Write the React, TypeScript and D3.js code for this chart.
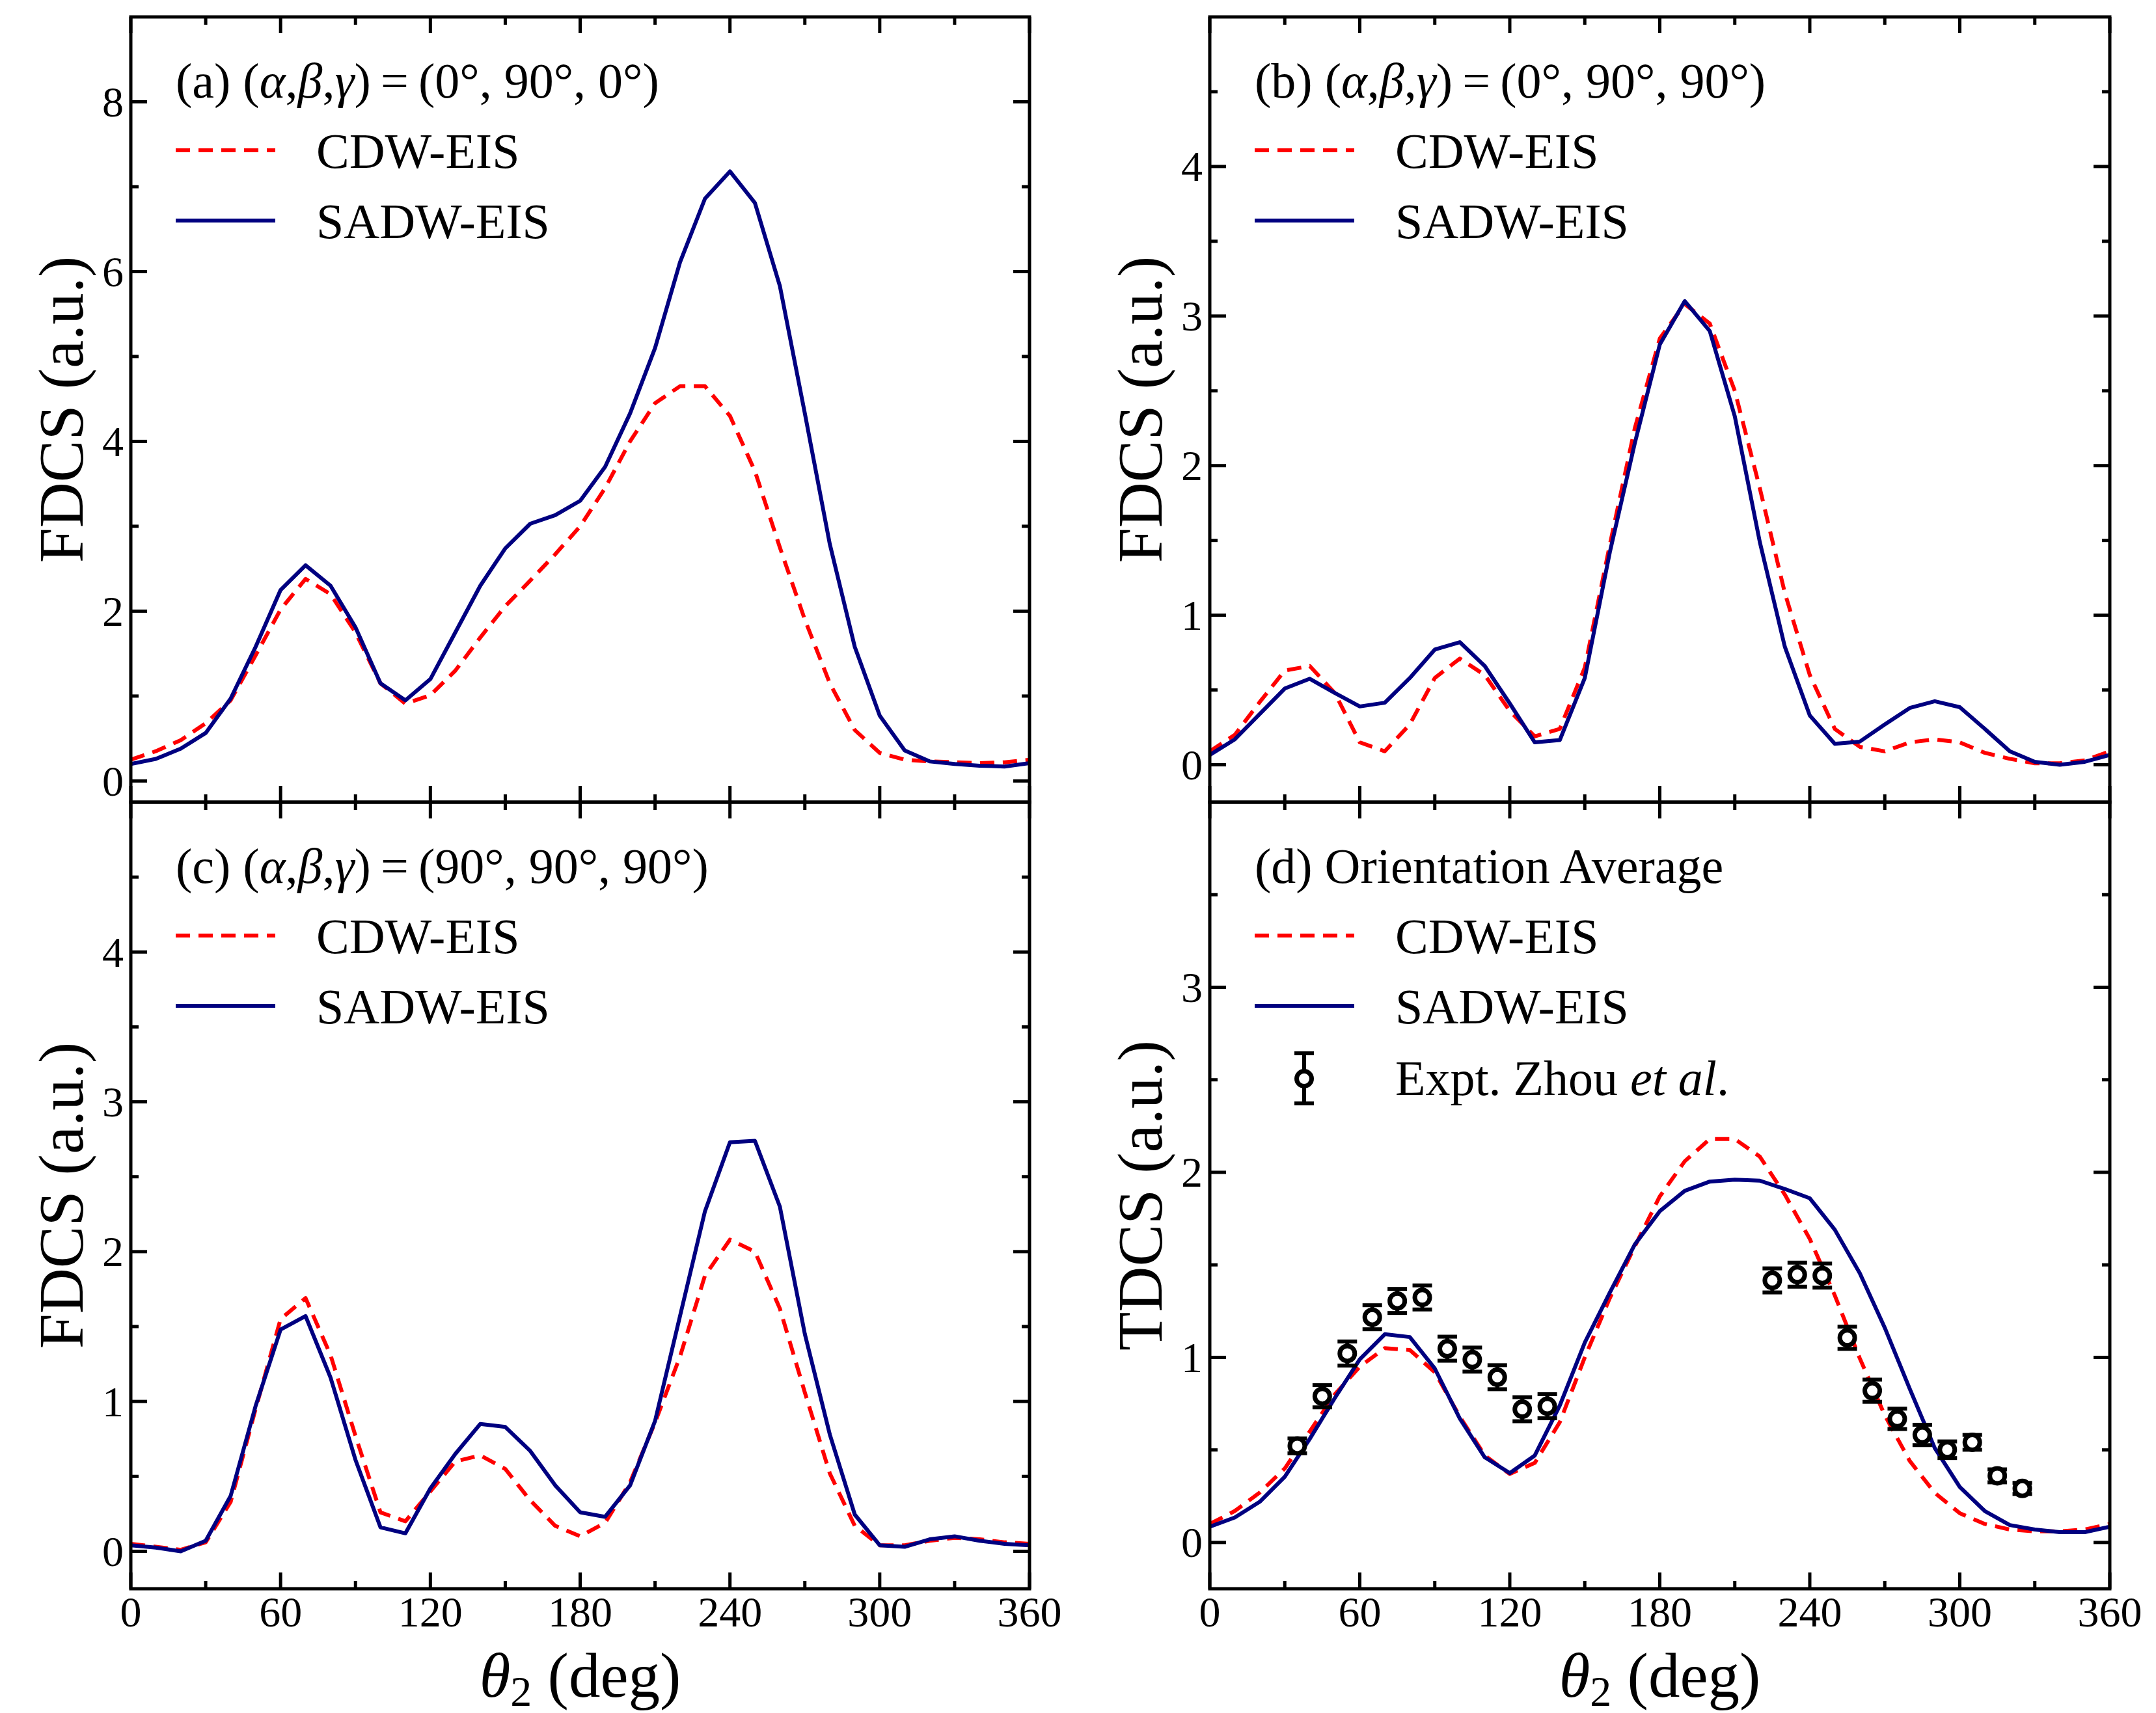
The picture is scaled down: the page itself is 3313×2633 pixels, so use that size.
import React from "react";
import * as d3 from "d3";

// ---------------- data ----------------
const angles = [0,10,20,30,40,50,60,70,80,90,100,110,120,130,140,150,160,170,180,190,200,210,220,230,240,250,260,270,280,290,300,310,320,330,340,350,360];

const aCdw = [0.25,0.35,0.48,0.68,0.95,1.48,2.02,2.38,2.2,1.75,1.15,0.91,1.01,1.3,1.69,2.06,2.36,2.67,3.0,3.45,4.0,4.45,4.65,4.65,4.3,3.65,2.75,1.9,1.15,0.6,0.33,0.25,0.23,0.22,0.21,0.22,0.25];
const aSadw = [0.2,0.26,0.38,0.565,0.97,1.58,2.25,2.54,2.3,1.81,1.15,0.95,1.2,1.75,2.3,2.74,3.03,3.13,3.3,3.7,4.33,5.1,6.11,6.86,7.18,6.81,5.83,4.33,2.79,1.58,0.77,0.36,0.23,0.2,0.18,0.17,0.21];

const bCdw = [0.09,0.2,0.42,0.63,0.66,0.48,0.15,0.09,0.27,0.58,0.71,0.6,0.36,0.19,0.24,0.65,1.47,2.25,2.85,3.08,2.95,2.5,1.85,1.15,0.6,0.24,0.12,0.09,0.15,0.17,0.15,0.08,0.04,0.01,0.01,0.03,0.09];
const bSadw = [0.066,0.17,0.34,0.51,0.575,0.48,0.39,0.415,0.58,0.77,0.82,0.66,0.41,0.15,0.165,0.58,1.42,2.15,2.81,3.1,2.9,2.33,1.49,0.79,0.33,0.14,0.155,0.27,0.38,0.425,0.385,0.24,0.09,0.02,0.0,0.02,0.066];

const cCdw = [0.05,0.03,0.01,0.06,0.33,0.95,1.55,1.69,1.31,0.77,0.26,0.2,0.4,0.6,0.64,0.55,0.34,0.17,0.1,0.19,0.46,0.86,1.3,1.84,2.08,2.0,1.62,1.06,0.52,0.17,0.04,0.04,0.07,0.09,0.08,0.06,0.05];
const cSadw = [0.04,0.025,0.0,0.07,0.37,0.97,1.48,1.57,1.16,0.61,0.16,0.12,0.42,0.65,0.85,0.83,0.67,0.44,0.26,0.23,0.44,0.87,1.57,2.27,2.73,2.74,2.3,1.45,0.78,0.245,0.04,0.03,0.08,0.1,0.07,0.05,0.04];

const dCdw = [0.1,0.17,0.27,0.4,0.6,0.8,0.95,1.05,1.04,0.92,0.68,0.47,0.37,0.43,0.65,1.0,1.32,1.6,1.87,2.06,2.18,2.18,2.085,1.88,1.64,1.335,0.995,0.687,0.44,0.268,0.158,0.1,0.07,0.06,0.06,0.07,0.1];
const dSadw = [0.085,0.135,0.22,0.355,0.56,0.78,0.99,1.125,1.11,0.94,0.67,0.46,0.375,0.47,0.74,1.08,1.35,1.61,1.79,1.9,1.95,1.96,1.955,1.91,1.86,1.69,1.455,1.16,0.83,0.51,0.3,0.17,0.094,0.07,0.056,0.056,0.085];

const exptAngles = [35,45,55,65,75,85,95,105,115,125,135,225,235,245,255,265,275,285,295,305,315,325];
const exptValues = [0.522,0.79,1.021,1.217,1.305,1.324,1.047,0.988,0.893,0.72,0.736,1.416,1.447,1.442,1.106,0.82,0.668,0.581,0.501,0.541,0.36,0.292];
const exptErrors = [0.04,0.06,0.065,0.065,0.065,0.065,0.065,0.065,0.065,0.065,0.065,0.065,0.065,0.065,0.06,0.06,0.055,0.055,0.045,0.04,0.035,0.03];

const xMajorTicks = [0,60,120,180,240,300,360];
const xMinorTicks = [30,90,150,210,270,330];

const aYMajor = [0,2,4,6,8];
const aYMinor = [1,3,5,7];
const bYMajor = [0,1,2,3,4];
const bYMinor = [0.5,1.5,2.5,3.5,4.5];
const cYMajor = [0,1,2,3,4];
const cYMinor = [0.5,1.5,2.5,3.5,4.5];
const dYMajor = [0,1,2,3];
const dYMinor = [0.5,1.5,2.5,3.5];

const seriesNames = ["CDW-EIS", "SADW-EIS"];
const exptName = "Expt. Zhou ";

// ---------------- style ----------------
const FONT = "'Liberation Serif', 'Times New Roman', Times, serif";
const RED = "#ff0000";
const BLUE = "#000080";
const W = 3313;
const H = 2633;

const colX = [201, 1859];
const colW = [1381, 1383];
const rowY = [26, 1233];
const rowH = [1207, 1209];

type PanelDef = {
  col: number;
  row: number;
  yDomain: [number, number];
  yMajor: number[];
  yMinor: number[];
  cdw: number[];
  sadw: number[];
  yLabel: string;
  title: React.ReactNode;
  showX: boolean;
  expt?: boolean;
};

const greekTitle = (tag: string, vals: string) => (
  <>
    <tspan>{tag} (</tspan>
    <tspan fontStyle="italic">α</tspan>
    <tspan>,</tspan>
    <tspan fontStyle="italic">β</tspan>
    <tspan>,</tspan>
    <tspan fontStyle="italic">γ</tspan>
    <tspan>){"\u2009"}={"\u2009"}{vals}</tspan>
  </>
);

const panels: PanelDef[] = [
  { col: 0, row: 0, yDomain: [-0.25, 9], yMajor: aYMajor, yMinor: aYMinor, cdw: aCdw, sadw: aSadw, yLabel: "FDCS (a.u.)", title: greekTitle("(a)", "(0°, 90°, 0°)"), showX: false },
  { col: 1, row: 0, yDomain: [-0.25, 5], yMajor: bYMajor, yMinor: bYMinor, cdw: bCdw, sadw: bSadw, yLabel: "FDCS (a.u.)", title: greekTitle("(b)", "(0°, 90°, 90°)"), showX: false },
  { col: 0, row: 1, yDomain: [-0.25, 5], yMajor: cYMajor, yMinor: cYMinor, cdw: cCdw, sadw: cSadw, yLabel: "FDCS (a.u.)", title: greekTitle("(c)", "(90°, 90°, 90°)"), showX: true },
  { col: 1, row: 1, yDomain: [-0.25, 4], yMajor: dYMajor, yMinor: dYMinor, cdw: dCdw, sadw: dSadw, yLabel: "TDCS (a.u.)", title: <tspan>(d) Orientation Average</tspan>, showX: true, expt: true },
];

const MAJOR = 25;
const MINOR = 12;
const TICK_W = 5;
const LINE_W = 6;
const DASH = "22,13";
const CAP = 15;
const BAR_W = 6;

function Panel({ p, idx }: { p: PanelDef; idx: number }) {
  const x0 = colX[p.col];
  const y0 = rowY[p.row];
  const w = colW[p.col];
  const h = rowH[p.row];
  const x = d3.scaleLinear().domain([0, 360]).range([0, w]);
  const y = d3.scaleLinear().domain(p.yDomain).range([h, 0]);
  const line = d3
    .line<number>()
    .x((_, i) => x(angles[i]))
    .y((d) => y(d));
  const clipId = `clip-${idx}`;

  const legendX1 = 69;
  const legendX2 = 222;
  const textX = 285;

  return (
    <g transform={`translate(${x0},${y0})`}>
      <defs>
        <clipPath id={clipId}>
          <rect x={0} y={0} width={w} height={h} />
        </clipPath>
      </defs>
      {/* curves */}
      <g clipPath={`url(#${clipId})`}>
        <path d={line(p.cdw) || ""} fill="none" stroke={RED} strokeWidth={LINE_W} strokeDasharray={DASH} strokeLinejoin="round" />
        <path d={line(p.sadw) || ""} fill="none" stroke={BLUE} strokeWidth={LINE_W} strokeLinejoin="round" />
        {p.expt &&
          exptAngles.map((a, i) => {
            const cx = x(a);
            const cy = y(exptValues[i]);
            const yt = y(exptValues[i] + exptErrors[i]);
            const yb = y(exptValues[i] - exptErrors[i]);
            return (
              <g key={i}>
                <line x1={cx} x2={cx} y1={yt} y2={yb} stroke="#000" strokeWidth={BAR_W} />
                <line x1={cx - CAP} x2={cx + CAP} y1={yt} y2={yt} stroke="#000" strokeWidth={BAR_W} />
                <line x1={cx - CAP} x2={cx + CAP} y1={yb} y2={yb} stroke="#000" strokeWidth={BAR_W} />
                <circle cx={cx} cy={cy} r={11.5} fill="#fff" stroke="#000" strokeWidth={7} />
              </g>
            );
          })}
      </g>

      {/* ticks */}
      <g stroke="#000" strokeWidth={TICK_W}>
        {xMajorTicks.map((t) => (
          <g key={`xM${t}`}>
            <line x1={x(t)} x2={x(t)} y1={h} y2={h - MAJOR} />
            <line x1={x(t)} x2={x(t)} y1={0} y2={MAJOR} />
          </g>
        ))}
        {xMinorTicks.map((t) => (
          <g key={`xm${t}`}>
            <line x1={x(t)} x2={x(t)} y1={h} y2={h - MINOR} />
            <line x1={x(t)} x2={x(t)} y1={0} y2={MINOR} />
          </g>
        ))}
        {p.yMajor.map((t) => (
          <g key={`yM${t}`}>
            <line x1={0} x2={MAJOR} y1={y(t)} y2={y(t)} />
            <line x1={w} x2={w - MAJOR} y1={y(t)} y2={y(t)} />
          </g>
        ))}
        {p.yMinor.map((t) => (
          <g key={`ym${t}`}>
            <line x1={0} x2={MINOR} y1={y(t)} y2={y(t)} />
            <line x1={w} x2={w - MINOR} y1={y(t)} y2={y(t)} />
          </g>
        ))}
      </g>
      <rect x={0} y={0} width={w} height={h} fill="none" stroke="#000" strokeWidth={5} />

      {/* tick labels */}
      <g fontFamily={FONT} fontSize={66} fill="#000">
        {p.yMajor.map((t) => (
          <text key={`yl${t}`} x={-11} y={y(t)} dy="0.34em" textAnchor="end">
            {d3.format("d")(t)}
          </text>
        ))}
        {p.showX &&
          xMajorTicks.map((t) => (
            <text key={`xl${t}`} x={x(t)} y={h + 58} textAnchor="middle">
              {t}
            </text>
          ))}
      </g>

      {/* axis titles */}
      <text
        transform={`translate(-74,${h / 2}) rotate(-90)`}
        textAnchor="middle"
        fontFamily={FONT}
        fontSize={97}
        fill="#000"
      >
        {p.yLabel}
      </text>
      {p.showX && (
        <text x={w / 2} y={h + 166} textAnchor="middle" fontFamily={FONT} fontSize={97} fill="#000">
          <tspan fontStyle="italic">θ</tspan>
          <tspan fontSize={66} dy={14}>2</tspan>
          <tspan dy={-14}> (deg)</tspan>
        </text>
      )}

      {/* title & legend */}
      <g fontFamily={FONT} fontSize={76} fill="#000">
        <text x={legendX1} y={124}>{p.title}</text>
        <line x1={legendX1} x2={legendX2} y1={205} y2={205} stroke={RED} strokeWidth={LINE_W} strokeDasharray={DASH} />
        <text x={textX} y={232}>{seriesNames[0]}</text>
        <line x1={legendX1} x2={legendX2} y1={313} y2={313} stroke={BLUE} strokeWidth={LINE_W} />
        <text x={textX} y={340}>{seriesNames[1]}</text>
        {p.expt && (
          <g>
            <line x1={145} x2={145} y1={386} y2={463} stroke="#000" strokeWidth={BAR_W} />
            <line x1={130} x2={160} y1={386} y2={386} stroke="#000" strokeWidth={BAR_W} />
            <line x1={130} x2={160} y1={463} y2={463} stroke="#000" strokeWidth={BAR_W} />
            <circle cx={145} cy={425} r={11.5} fill="#fff" stroke="#000" strokeWidth={7} />
            <text x={textX} y={450}>
              {exptName}
              <tspan fontStyle="italic">et al</tspan>.
            </text>
          </g>
        )}
      </g>
    </g>
  );
}

export default function App() {
  return (
    <div style={{ position: "absolute", left: 0, top: 0, width: W, height: H, background: "#fff" }}>
      <svg width={W} height={H} viewBox={`0 0 ${W} ${H}`} xmlns="http://www.w3.org/2000/svg" style={{ display: "block" }}>
        <rect x={0} y={0} width={W} height={H} fill="#fff" />
        {panels.map((p, i) => (
          <Panel key={i} p={p} idx={i} />
        ))}
      </svg>
    </div>
  );
}
